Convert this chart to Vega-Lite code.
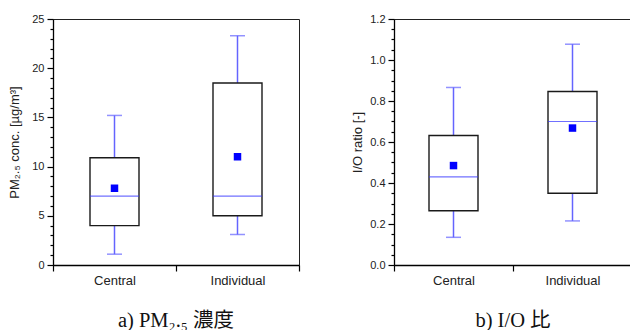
{
  "$schema": "https://vega.github.io/schema/vega-lite/v6.json",
  "background": "white",
  "padding": {"top": 12, "left": 8, "right": 0, "bottom": 0},
  "spacing": 50,
  "datasets": {
    "pm": [
      {"group": "Central", "min": 1.1, "q1": 4.0, "median": 7.0, "q3": 10.9, "max": 15.2, "mean": 7.8},
      {"group": "Individual", "min": 3.1, "q1": 5.0, "median": 7.0, "q3": 18.5, "max": 23.3, "mean": 11.0}
    ],
    "io": [
      {"group": "Central", "min": 0.135, "q1": 0.265, "median": 0.43, "q3": 0.632, "max": 0.866, "mean": 0.485},
      {"group": "Individual", "min": 0.215, "q1": 0.35, "median": 0.70, "q3": 0.846, "max": 1.077, "mean": 0.668}
    ]
  },
  "config": {
    "view": {"stroke": "#222222", "strokeWidth": 1},
    "axis": {
      "domainColor": "#000000", "domainWidth": 1.3, "tickColor": "#000000", "tickWidth": 1.2,
      "labelColor": "#222222", "titleColor": "#222222",
      "labelFont": "Liberation Sans", "titleFont": "Liberation Sans",
      "titleFontWeight": "normal", "grid": false
    },
    "title": {"font": "Liberation Serif, Noto Sans CJK JP", "fontWeight": "normal", "color": "#111111"}
  },
  "hconcat": [
    {
      "width": 246, "height": 246,
      "data": {"name": "pm"},
      "title": {"text": "a) PM₂.₅ 濃度", "orient": "bottom", "anchor": "middle", "frame": "group", "fontSize": 20.5, "offset": 24},
      "encoding": {
        "x": {"field": "group", "type": "nominal", "sort": ["Central", "Individual"],
          "scale": {"paddingInner": 0, "paddingOuter": 0},
          "axis": {"title": null, "labelAngle": 0, "tickBand": "extent", "tickSize": 6, "labelPadding": 3, "labelFontSize": 13}}
      },
      "resolve": {"axis": {"y": "independent"}},
      "layer": [
        {
          "mark": {"type": "rule", "color": "#6464ff", "strokeWidth": 1.5},
          "encoding": {
            "y": {"field": "min", "type": "quantitative", "scale": {"domain": [0, 25], "nice": false},
              "axis": {"orient": "left", "values": [0, 5, 10, 15, 20, 25], "tickSize": 6, "labelPadding": 3, "labelFontSize": 11,
                "title": "PM₂.₅ conc. [µg/m³]", "titleFontSize": 13, "titlePadding": 10}},
            "y2": {"field": "max"}
          }
        },
        {
          "mark": {"type": "tick", "color": "#6464ff", "size": 15, "thickness": 1.5},
          "encoding": {"y": {"field": "min", "type": "quantitative", "axis": null}}
        },
        {
          "mark": {"type": "tick", "color": "#6464ff", "size": 15, "thickness": 1.5},
          "encoding": {"y": {"field": "max", "type": "quantitative", "axis": null}}
        },
        {
          "mark": {"type": "bar", "fill": "white", "stroke": "#1a1a1a", "strokeWidth": 1.4, "size": 49},
          "encoding": {"y": {"field": "q1", "type": "quantitative", "axis": null}, "y2": {"field": "q3"}}
        },
        {
          "mark": {"type": "tick", "color": "#3333ff", "size": 49, "thickness": 1.2},
          "encoding": {"y": {"field": "median", "type": "quantitative", "axis": null}}
        },
        {
          "mark": {"type": "square", "color": "#0000ff", "filled": true, "opacity": 1, "size": 56},
          "encoding": {"y": {"field": "mean", "type": "quantitative",
            "axis": {"orient": "left", "values": [1,2,3,4,6,7,8,9,11,12,13,14,16,17,18,19,21,22,23,24], "tickSize": 3, "labels": false, "domain": false, "title": null}}}
        }
      ]
    },
    {
      "width": 238, "height": 246,
      "data": {"name": "io"},
      "title": {"text": "b) I/O 比", "orient": "bottom", "anchor": "middle", "frame": "group", "fontSize": 20.5, "offset": 24},
      "encoding": {
        "x": {"field": "group", "type": "nominal", "sort": ["Central", "Individual"],
          "scale": {"paddingInner": 0, "paddingOuter": 0},
          "axis": {"title": null, "labelAngle": 0, "tickBand": "extent", "tickSize": 6, "labelPadding": 3, "labelFontSize": 13}}
      },
      "resolve": {"axis": {"y": "independent"}},
      "layer": [
        {
          "mark": {"type": "rule", "color": "#6464ff", "strokeWidth": 1.5},
          "encoding": {
            "y": {"field": "min", "type": "quantitative", "scale": {"domain": [0, 1.2], "nice": false},
              "axis": {"orient": "left", "values": [0, 0.2, 0.4, 0.6, 0.8, 1.0, 1.2], "format": ".1f", "tickSize": 6, "labelPadding": 3, "labelFontSize": 11,
                "title": "I/O ratio [-]", "titleFontSize": 13, "titlePadding": 5}},
            "y2": {"field": "max"}
          }
        },
        {
          "mark": {"type": "tick", "color": "#6464ff", "size": 15, "thickness": 1.5},
          "encoding": {"y": {"field": "min", "type": "quantitative", "axis": null}}
        },
        {
          "mark": {"type": "tick", "color": "#6464ff", "size": 15, "thickness": 1.5},
          "encoding": {"y": {"field": "max", "type": "quantitative", "axis": null}}
        },
        {
          "mark": {"type": "bar", "fill": "white", "stroke": "#1a1a1a", "strokeWidth": 1.4, "size": 49},
          "encoding": {"y": {"field": "q1", "type": "quantitative", "axis": null}, "y2": {"field": "q3"}}
        },
        {
          "mark": {"type": "tick", "color": "#3333ff", "size": 49, "thickness": 1.2},
          "encoding": {"y": {"field": "median", "type": "quantitative", "axis": null}}
        },
        {
          "mark": {"type": "square", "color": "#0000ff", "filled": true, "opacity": 1, "size": 56},
          "encoding": {"y": {"field": "mean", "type": "quantitative",
            "axis": {"orient": "left", "values": [0.05,0.1,0.15,0.25,0.3,0.35,0.45,0.5,0.55,0.65,0.7,0.75,0.85,0.9,0.95,1.05,1.1,1.15], "tickSize": 3, "labels": false, "domain": false, "title": null}}}
        }
      ]
    }
  ]
}
